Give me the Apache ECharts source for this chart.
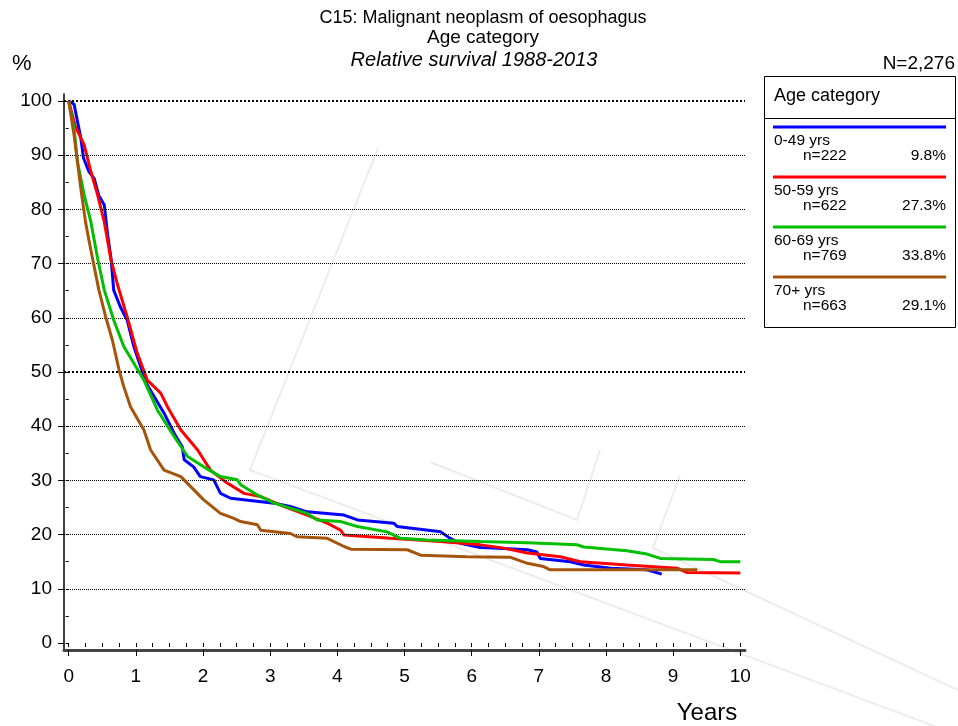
<!DOCTYPE html>
<html>
<head>
<meta charset="utf-8">
<script src="https://cdn.jsdelivr.net/npm/echarts@6/dist/echarts.min.js"></script>
<style>html,body{margin:0;padding:0;background:#fff}#c{width:958px;height:726px}</style>
</head>
<body>
<div id="c"></div>
<script>
// ---- data (years, relative survival %) ----
const seriesNames = ['0-49 yrs', '50-59 yrs', '60-69 yrs', '70+ yrs'];
const seriesCounts = ['n=222', 'n=622', 'n=769', 'n=663'];
const seriesShares = ['9.8%', '27.3%', '33.8%', '29.1%'];
const seriesColors = ['#0000ff', '#ff0000', '#00c000', '#a6540c'];

const age0_49 = [[0,100],[0.08,99.4],[0.18,93.2],[0.22,89.5],[0.3,87],[0.38,85.7],[0.45,82.5],[0.53,80.8],[0.58,75.3],[0.63,71],[0.67,65.1],[0.77,62.0],[0.87,59.6],[0.97,54.7],[1.07,51.0],[1.17,47.6],[1.42,42.4],[1.57,38.7],[1.69,36.2],[1.72,33.8],[1.86,32.5],[1.96,30.7],[2.16,30.1],[2.26,27.6],[2.41,26.7],[3.06,25.8],[3.30,25.2],[3.55,24.2],[4.10,23.6],[4.30,22.7],[4.84,22.1],[4.89,21.5],[5.54,20.5],[5.68,19.3],[5.83,18.4],[6.13,17.6],[6.33,17.5],[6.83,17.2],[6.97,16.8],[7.02,15.6],[7.47,15.0],[7.67,14.4],[8.07,13.8],[8.61,13.5],[8.83,12.7]];
const age50_59 = [[0,100],[0.1,95.3],[0.23,91.9],[0.33,87],[0.43,82.7],[0.53,77.7],[0.625,71],[0.72,66.4],[0.87,60.2],[1.02,53.5],[1.17,48.5],[1.37,46.1],[1.47,43.6],[1.67,39.3],[1.92,35.6],[2.11,31.9],[2.36,29.5],[2.61,27.6],[2.86,27.0],[3.20,25.2],[3.55,23.6],[3.85,22.1],[4.05,20.8],[4.10,19.9],[4.79,19.3],[5.54,18.7],[6.13,18.1],[6.48,17.5],[6.83,16.6],[7.32,15.9],[7.62,15.0],[8.31,14.4],[9.06,13.8],[9.21,13.0],[10,12.9]];
const age60_69 = [[0,100],[0.08,95],[0.13,88.8],[0.23,82.7],[0.33,77.7],[0.43,71],[0.53,65.1],[0.67,59.6],[0.82,54.7],[0.97,51.6],[1.12,48.5],[1.32,43],[1.57,38.1],[1.77,34.4],[2.01,32.5],[2.26,30.7],[2.51,30.1],[2.56,29.2],[2.81,27.3],[3.06,25.8],[3.55,23.9],[3.70,22.7],[4.05,22.4],[4.30,21.5],[4.74,20.5],[4.94,19.3],[5.34,19.0],[6.13,18.7],[6.83,18.5],[7.57,18.1],[7.67,17.7],[8.31,17.0],[8.61,16.4],[8.81,15.6],[9.60,15.4],[9.70,15.0],[10,15.0]];
const age70plus = [[0,100],[0.08,93.7],[0.13,88.8],[0.18,83.9],[0.25,77.7],[0.30,74.4],[0.38,69.4],[0.45,65.1],[0.55,60.2],[0.65,55.9],[0.75,50.4],[0.82,47.3],[0.92,43.6],[1.12,39.3],[1.22,35.6],[1.42,31.9],[1.67,30.7],[1.82,28.8],[2.01,26.4],[2.26,23.9],[2.46,23.0],[2.56,22.4],[2.81,21.8],[2.86,20.8],[3.30,20.2],[3.40,19.6],[3.85,19.3],[4.10,17.8],[4.20,17.3],[5.04,17.2],[5.24,16.2],[5.93,15.9],[6.58,15.8],[6.83,14.7],[7.07,14.1],[7.17,13.5],[9.36,13.5]];

const xTickLabels = [0,1,2,3,4,5,6,7,8,9,10];
const xMinorTicks = [0,0.25,0.5,0.75,1,1.25,1.5,1.75,2,2.25,2.5,2.75,3,3.25,3.5,3.75,4,4.25,4.5,4.75,5,5.25,5.5,5.75,6,6.25,6.5,6.75,7,7.25,7.5,7.75,8,8.25,8.5,8.75,9,9.25,9.5,9.75,10];
const yTickLabels = [0,10,20,30,40,50,60,70,80,90,100];
const yMinorTicks = [0,5,10,15,20,25,30,35,40,45,50,55,60,65,70,75,80,85,90,95,100];
const gridLevels = [10,20,30,40,60,70,80,90];
const boldLevels = [50,100];

// ---- chart ----
const FONT = '"Liberation Sans", Arial, sans-serif';
const chart = echarts.init(document.getElementById('c'), null, {renderer: 'canvas'});
const allData = [age0_49, age50_59, age60_69, age70plus];

const series = [{
  type: 'line', data: [], silent: true, z: 1,
  markLine: {
    silent: true, symbol: ['none','none'], label: {show: false},
    data: gridLevels.map(v => ({yAxis: v, lineStyle: {type: [1,1], width: 1, color: '#000'}}))
      .concat(boldLevels.map(v => ({yAxis: v, lineStyle: {type: [2,2], width: 2, color: '#000'}})))
  }
}];
allData.forEach((d, i) => {
  series.push({
    name: seriesNames[i], type: 'line', data: d, showSymbol: false, symbol: 'none',
    lineStyle: {color: seriesColors[i], width: 3}, z: 3 + i, silent: true
  });
});

const WM = {stroke: '#ececec', lineWidth: 2, fill: null};
const legendX = 764, legendY = 76, legendW = 191, legendH = 251;
const graphics = [
  // faint background watermark (decoration)
  {type:'polyline', shape:{points:[[378,148],[250,470],[958,735]]}, style:WM, z:-10, silent:true},
  {type:'polyline', shape:{points:[[430,462],[577,520],[600,450]]}, style:WM, z:-10, silent:true},
  {type:'polyline', shape:{points:[[680,475],[653,548],[958,690]]}, style:WM, z:-10, silent:true},
  {type:'text', style:{text:'C15: Malignant neoplasm of oesophagus', x:483, y:18, font:'18px '+FONT, fill:'#000', textAlign:'center', textVerticalAlign:'middle'}},
  {type:'text', style:{text:'Age category', x:483, y:38, font:'19px '+FONT, fill:'#000', textAlign:'center', textVerticalAlign:'middle'}},
  {type:'text', style:{text:'Relative survival 1988-2013', x:474, y:60, font:'italic 20px '+FONT, fill:'#000', textAlign:'center', textVerticalAlign:'middle'}},
  {type:'text', style:{text:'%', x:12, y:64, font:'22px '+FONT, fill:'#000', textAlign:'left', textVerticalAlign:'middle'}},
  {type:'text', style:{text:'N=2,276', x:955, y:64, font:'19px '+FONT, fill:'#000', textAlign:'right', textVerticalAlign:'middle'}},
  {type:'text', style:{text:'Years', x:707, y:713, font:'24px '+FONT, fill:'#000', textAlign:'center', textVerticalAlign:'middle'}},
  {type:'rect', shape:{x:legendX+0.5, y:legendY+0.5, width:legendW, height:legendH}, style:{fill:'#fff', stroke:'#000', lineWidth:1}, z:10},
  {type:'text', style:{text:'Age category', x:774, y:96, font:'18px '+FONT, fill:'#000', textVerticalAlign:'middle'}, z:11},
  {type:'line', shape:{x1:legendX, y1:118.5, x2:legendX+legendW, y2:118.5}, style:{stroke:'#000', lineWidth:1}, z:11}
];
seriesNames.forEach((nm, i) => {
  const y0 = 127 + 50*i;
  graphics.push({type:'line', shape:{x1:773, y1:y0, x2:946, y2:y0}, style:{stroke:seriesColors[i], lineWidth:3}, z:11});
  graphics.push({type:'text', style:{text:nm, x:774, y:y0+14, font:'15.5px '+FONT, fill:'#000', textVerticalAlign:'middle'}, z:11});
  graphics.push({type:'text', style:{text:seriesCounts[i], x:803, y:y0+29, font:'15.5px '+FONT, fill:'#000', textVerticalAlign:'middle'}, z:11});
  graphics.push({type:'text', style:{text:seriesShares[i], x:946, y:y0+29, font:'15.5px '+FONT, fill:'#000', textAlign:'right', textVerticalAlign:'middle'}, z:11});
});

chart.setOption({
  animation: false,
  backgroundColor: '#fff',
  grid: {left: 64, right: 213, top: 94, bottom: 76, containLabel: false},
  xAxis: [{
    type: 'value', min: -0.07, max: 10.07,
    axisLine: {show: true, onZero: false, lineStyle: {color: '#444', width: 3}},
    axisTick: {show: true, length: 6, customValues: xTickLabels, lineStyle: {color: '#000', width: 1}},
    axisLabel: {customValues: xTickLabels, margin: 17, fontSize: 19, color: '#000', fontFamily: FONT},
    splitLine: {show: false}
  }, {
    type: 'value', min: -0.07, max: 10.07, position: 'bottom', offset: 0,
    axisLine: {show: false},
    axisTick: {show: true, length: 4, customValues: xMinorTicks, lineStyle: {color: '#000', width: 1}},
    axisLabel: {show: false},
    splitLine: {show: false}
  }],
  yAxis: [{
    type: 'value', min: -1.3, max: 101.3,
    axisLine: {show: true, onZero: false, lineStyle: {color: '#000', width: 1.5}},
    axisTick: {show: true, length: 6, customValues: yTickLabels, lineStyle: {color: '#000', width: 1}},
    axisLabel: {customValues: yTickLabels, margin: 12, fontSize: 19, color: '#000', fontFamily: FONT},
    splitLine: {show: false}
  }, {
    type: 'value', min: -1.3, max: 101.3, position: 'left', offset: 0,
    axisLine: {show: false},
    axisTick: {show: true, length: 3, customValues: yMinorTicks, lineStyle: {color: '#000', width: 1}},
    axisLabel: {show: false},
    splitLine: {show: false}
  }],
  series: series,
  graphic: graphics
});
</script>
</body>
</html>
